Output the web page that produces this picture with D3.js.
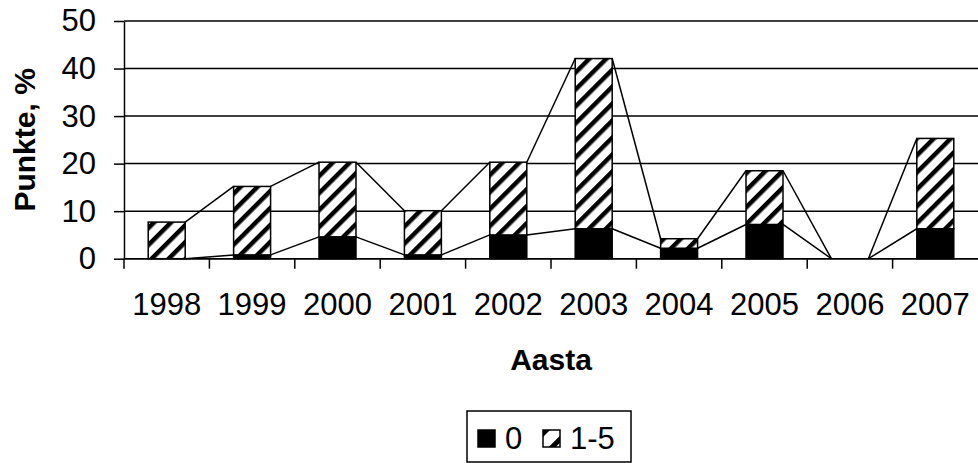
<!DOCTYPE html>
<html>
<head>
<meta charset="utf-8">
<script src="https://cdn.jsdelivr.net/npm/d3@7"></script>
<style>
body{margin:0;background:#fff;}
svg{display:block;font-family:"Liberation Sans",Arial,sans-serif;}
</style>
</head>
<body>
<div id="chart"></div>
<script>
// data
var years = ['1998','1999','2000','2001','2002','2003','2004','2005','2006','2007'];
var seriesNames = ['0','1-5'];
var vals0  = [0, 0.8, 4.6, 0.8, 5.0, 6.3, 2.2, 7.2, 0, 6.3];
var vals15 = [7.7, 14.4, 15.7, 9.3, 15.3, 35.8, 2.0, 11.3, 0, 19.0];
var yTicks = [0,10,20,30,40,50];

var W = 978, H = 463;
var pLeft = 124, pRight = 978, pTop = 21, pBottom = 258.7;

var svg = d3.select('#chart').append('svg')
	.attr('width',W).attr('height',H);

var defs = svg.append('defs');
var pat = defs.append('pattern')
	.attr('id','hatch')
	.attr('patternUnits','userSpaceOnUse')
	.attr('width',12).attr('height',12)
	.attr('patternTransform','rotate(45)');
pat.append('rect').attr('width',12).attr('height',12).attr('fill','#fff');
pat.append('rect').attr('x',0).attr('y',0).attr('width',4.5).attr('height',12).attr('fill','#000');

var legPat = defs.append('pattern')
	.attr('id','hatchLeg')
	.attr('patternUnits','userSpaceOnUse')
	.attr('width',16).attr('height',16)
	.attr('patternTransform','rotate(45)');
legPat.append('rect').attr('width',16).attr('height',16).attr('fill','#fff');
legPat.append('rect').attr('x',0).attr('y',0).attr('width',5).attr('height',16).attr('fill','#000');

// category slots (no padding) for the tick marks, bars sit in the middle of each slot
var xCat = d3.scaleBand().domain(years).range([pLeft,pRight]).padding(0);
var x = d3.scaleBand().domain(years).range([pLeft,pRight]).paddingInner(0.567).paddingOuter(0.2835);
var y = d3.scaleLinear().domain([0,50]).range([pBottom,pTop]);
var bw = x.bandwidth();

// gridlines
svg.selectAll('.grid').data(yTicks).enter()
	.append('line')
	.attr('class','grid')
	.attr('x1',pLeft).attr('x2',pRight)
	.attr('y1',function(d){return y(d);})
	.attr('y2',function(d){return y(d);})
	.attr('stroke','#000').attr('stroke-width',1.5);

// stacked data
var stack = years.map(function(d,i){
	return {year:d, a:vals0[i], b:vals15[i]};
});

svg.selectAll('.bar0').data(stack).enter()
	.append('rect')
	.attr('class','bar0')
	.attr('x',function(d){return x(d.year);})
	.attr('y',function(d){return y(d.a);})
	.attr('width',bw)
	.attr('height',function(d){return y(0)-y(d.a);})
	.attr('fill','#000')
	.attr('stroke','#000').attr('stroke-width',1.5);

svg.selectAll('.bar1').data(stack).enter()
	.append('rect')
	.attr('class','bar1')
	.attr('x',function(d){return x(d.year);})
	.attr('y',function(d){return y(d.a+d.b);})
	.attr('width',bw)
	.attr('height',function(d){return y(d.a)-y(d.a+d.b);})
	.attr('fill','url(#hatch)')
	.attr('stroke',function(d){return d.b>0 ? '#000' : 'none';})
	.attr('stroke-width',1.5);

// series lines between bar tops
var segs = [];
for (var i=0;i<stack.length-1;i++){
	segs.push({x1:x(stack[i].year)+bw, y1:stack[i].a, x2:x(stack[i+1].year), y2:stack[i+1].a});
	segs.push({x1:x(stack[i].year)+bw, y1:stack[i].a+stack[i].b, x2:x(stack[i+1].year), y2:stack[i+1].a+stack[i+1].b});
}
svg.selectAll('.sline').data(segs).enter()
	.append('line')
	.attr('class','sline')
	.attr('x1',function(d){return d.x1;})
	.attr('x2',function(d){return d.x2;})
	.attr('y1',function(d){return y(d.y1);})
	.attr('y2',function(d){return y(d.y2);})
	.attr('stroke','#000').attr('stroke-width',1.5);

// y axis
var yAxis = svg.append('g')
	.attr('transform','translate('+pLeft+',0)')
	.call(d3.axisLeft(y).tickValues(yTicks).tickSize(10).tickPadding(18).tickSizeOuter(0));
yAxis.select('.domain').attr('stroke','#000').attr('stroke-width',1.5);
yAxis.selectAll('.tick line').attr('stroke-width',1.5);
yAxis.selectAll('text').attr('font-size','31px').attr('font-family','Liberation Sans, Arial, sans-serif').attr('fill','#000');

// x axis line + ticks on slot boundaries
svg.append('line')
	.attr('x1',pLeft).attr('x2',pRight)
	.attr('y1',y(0)).attr('y2',y(0))
	.attr('stroke','#000').attr('stroke-width',1.5);
var bounds = years.map(function(d){return xCat(d);});
svg.selectAll('.xtick').data(bounds).enter()
	.append('line')
	.attr('class','xtick')
	.attr('x1',function(d){return d;}).attr('x2',function(d){return d;})
	.attr('y1',y(0)).attr('y2',y(0)+10)
	.attr('stroke','#000').attr('stroke-width',1.5);
svg.selectAll('.xlab').data(years).enter()
	.append('text')
	.attr('class','xlab')
	.attr('x',function(d){return xCat(d)+xCat.bandwidth()/2;})
	.attr('y',315)
	.attr('text-anchor','middle')
	.attr('font-size','31px')
	.text(function(d){return d;});

// axis titles
svg.append('text')
	.attr('x',(pLeft+pRight)/2).attr('y',370)
	.attr('text-anchor','middle')
	.attr('font-size','30px').attr('font-weight','bold')
	.text('Aasta');
svg.append('text')
	.attr('transform','translate(35,'+((pTop+pBottom)/2)+') rotate(-90)')
	.attr('text-anchor','middle')
	.attr('font-size','30px').attr('font-weight','bold')
	.text('Punkte, %');

// legend
var leg = svg.append('g');
leg.append('rect')
	.attr('x',467).attr('y',411).attr('width',164).attr('height',51)
	.attr('fill','#fff').attr('stroke','#000').attr('stroke-width',1.5);
var legItems = [{name:seriesNames[0], fill:'#000', x:478, tx:505},
	{name:seriesNames[1], fill:'url(#hatchLeg)', x:543, tx:570}];
leg.selectAll('.lsw').data(legItems).enter()
	.append('rect')
	.attr('x',function(d){return d.x;}).attr('y',430)
	.attr('width',17).attr('height',17)
	.attr('fill',function(d){return d.fill;})
	.attr('stroke','#000').attr('stroke-width',1.5);
leg.selectAll('.ltx').data(legItems).enter()
	.append('text')
	.attr('x',function(d){return d.tx;}).attr('y',449)
	.attr('font-size','31px')
	.text(function(d){return d.name;});
</script>
</body>
</html>
